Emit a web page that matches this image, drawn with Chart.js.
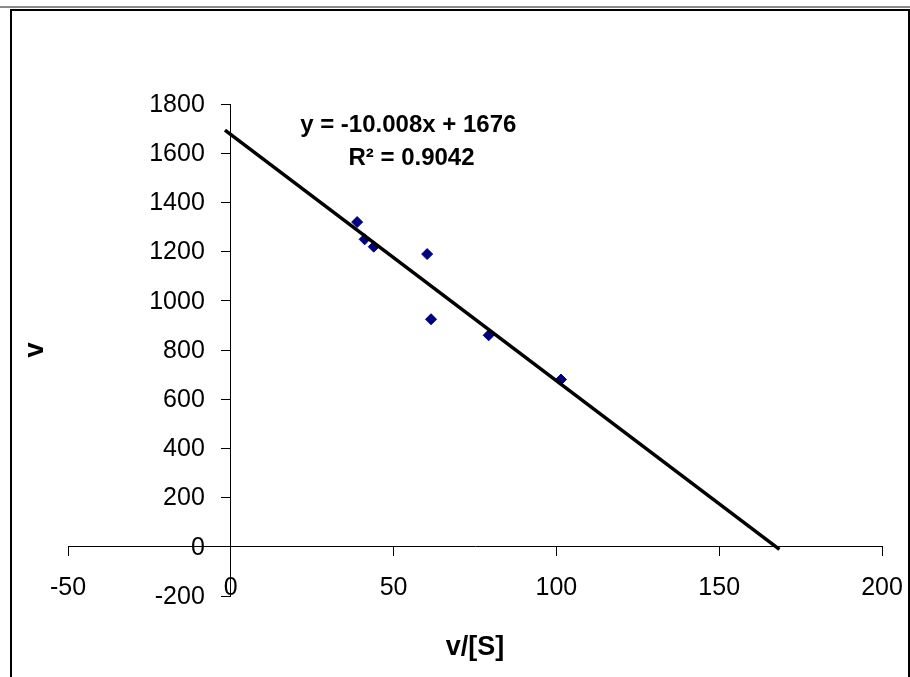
<!DOCTYPE html>
<html>
<head>
<meta charset="utf-8">
<title>v against v/[S]</title>
<script src="https://cdn.jsdelivr.net/npm/chart.js@4.4.1/dist/chart.umd.min.js"></script>
<style>
  body { margin: 0; background: #fff; }
  canvas { display: block; }
</style>
</head>
<body>
<canvas id="myChart" width="910" height="677"></canvas>
<script>
// measured points: v/[S] on x, v on y
var vOverS = [38.8, 41.1, 43.9, 60.3, 61.5, 79.2, 101.4];
var vValues = [1320, 1250, 1220, 1190, 925, 860, 680];

// linear trendline y = -10.008x + 1676
var slope = -10.008;
var intercept = 1676;
var rSquared = '0.9042';
var trendFrom = -1.8;
var trendTo = 168.5;

// axis ranges
var xRange = { min: -50, max: 200, step: 50 };
var yRange = { min: -200, max: 1800, step: 200 };

var FONT = "'Liberation Sans', Arial, Helvetica, sans-serif";
var TICK_LEN = 9;
var LABEL_GAP = 17;

var points = vOverS.map(function (x, i) {
  return { x: x, y: vValues[i] };
});

var trendline = [trendFrom, trendTo].map(function (x) {
  return { x: x, y: slope * x + intercept };
});

// frame, tick labels, axis titles and the trendline equation
var decorations = {
  id: 'decorations',
  beforeDraw: function (chart) {
    var ctx = chart.ctx;
    ctx.save();
    ctx.fillStyle = '#fff';
    ctx.fillRect(0, 0, chart.width, chart.height);
    ctx.strokeStyle = '#8a8a8a';
    ctx.lineWidth = 2;
    ctx.beginPath();
    ctx.moveTo(0, 7);
    ctx.lineTo(chart.width, 7);
    ctx.stroke();
    ctx.strokeStyle = '#000';
    ctx.lineWidth = 2;
    ctx.beginPath();
    ctx.moveTo(11, chart.height);
    ctx.lineTo(11, 10);
    ctx.lineTo(909, 10);
    ctx.lineTo(909, chart.height);
    ctx.stroke();
    ctx.restore();
  },
  afterDraw: function (chart) {
    var ctx = chart.ctx;
    var area = chart.chartArea;
    var xs = chart.scales.x;
    var ys = chart.scales.y;
    ctx.save();
    ctx.fillStyle = '#000';
    ctx.font = '25px ' + FONT;
    ctx.textBaseline = 'middle';

    // y labels sit left of the tick marks on the axis at x = 0
    ctx.textAlign = 'right';
    var labelRight = xs.getPixelForValue(0) - TICK_LEN - LABEL_GAP;
    ys.ticks.forEach(function (t) {
      ctx.fillText(String(t.value), labelRight, ys.getPixelForValue(t.value) + 1);
    });

    // x labels hang below the axis at y = 0
    ctx.textAlign = 'center';
    var labelMid = ys.getPixelForValue(0) + TICK_LEN + LABEL_GAP + 15;
    xs.ticks.forEach(function (t) {
      ctx.fillText(String(t.value), xs.getPixelForValue(t.value), labelMid);
    });

    ctx.font = 'bold 27px ' + FONT;
    ctx.fillText('v/[S]', (area.left + area.right) / 2, 648);
    ctx.save();
    ctx.translate(36, (area.top + area.bottom) / 2);
    ctx.rotate(-Math.PI / 2);
    ctx.fillText('v', 0, 0);
    ctx.restore();

    ctx.font = 'bold 24px ' + FONT;
    ctx.fillText('y = -10.008x + 1676', xs.getPixelForValue(54.5), ys.getPixelForValue(1712));
    ctx.fillText('R\u00B2 = ' + rSquared, xs.getPixelForValue(55.5), ys.getPixelForValue(1578));
    ctx.restore();
  }
};

var ctx = document.getElementById('myChart').getContext('2d');

var chart = new Chart(ctx, {
  type: 'scatter',
  data: {
    datasets: [{
      label: 'v',
      data: points,
      order: 1,
      pointStyle: 'rectRot',
      pointRadius: 5.5,
      pointHoverRadius: 5.5,
      borderWidth: 1,
      borderColor: '#000080',
      backgroundColor: '#000080'
    }, {
      label: 'Linear',
      type: 'line',
      data: trendline,
      order: 0,
      borderColor: '#000',
      borderWidth: 3.5,
      pointRadius: 0,
      fill: false
    }]
  },
  options: {
    responsive: false,
    animation: false,
    layout: {
      padding: { left: 68, right: 28, top: 104, bottom: 81 }
    },
    scales: {
      x: {
        type: 'linear',
        position: { y: 0 },
        min: xRange.min,
        max: xRange.max,
        ticks: {
          stepSize: xRange.step,
          display: false
        },
        grid: {
          drawOnChartArea: false,
          tickLength: TICK_LEN,
          color: '#000'
        },
        border: { color: '#000', width: 1 }
      },
      y: {
        type: 'linear',
        position: { x: 0 },
        min: yRange.min,
        max: yRange.max,
        ticks: {
          stepSize: yRange.step,
          display: false
        },
        grid: {
          drawOnChartArea: false,
          tickLength: TICK_LEN,
          color: '#000'
        },
        border: { color: '#000', width: 1 }
      }
    },
    plugins: {
      legend: { display: false },
      tooltip: { enabled: false }
    }
  },
  plugins: [decorations]
});
</script>
</body>
</html>
